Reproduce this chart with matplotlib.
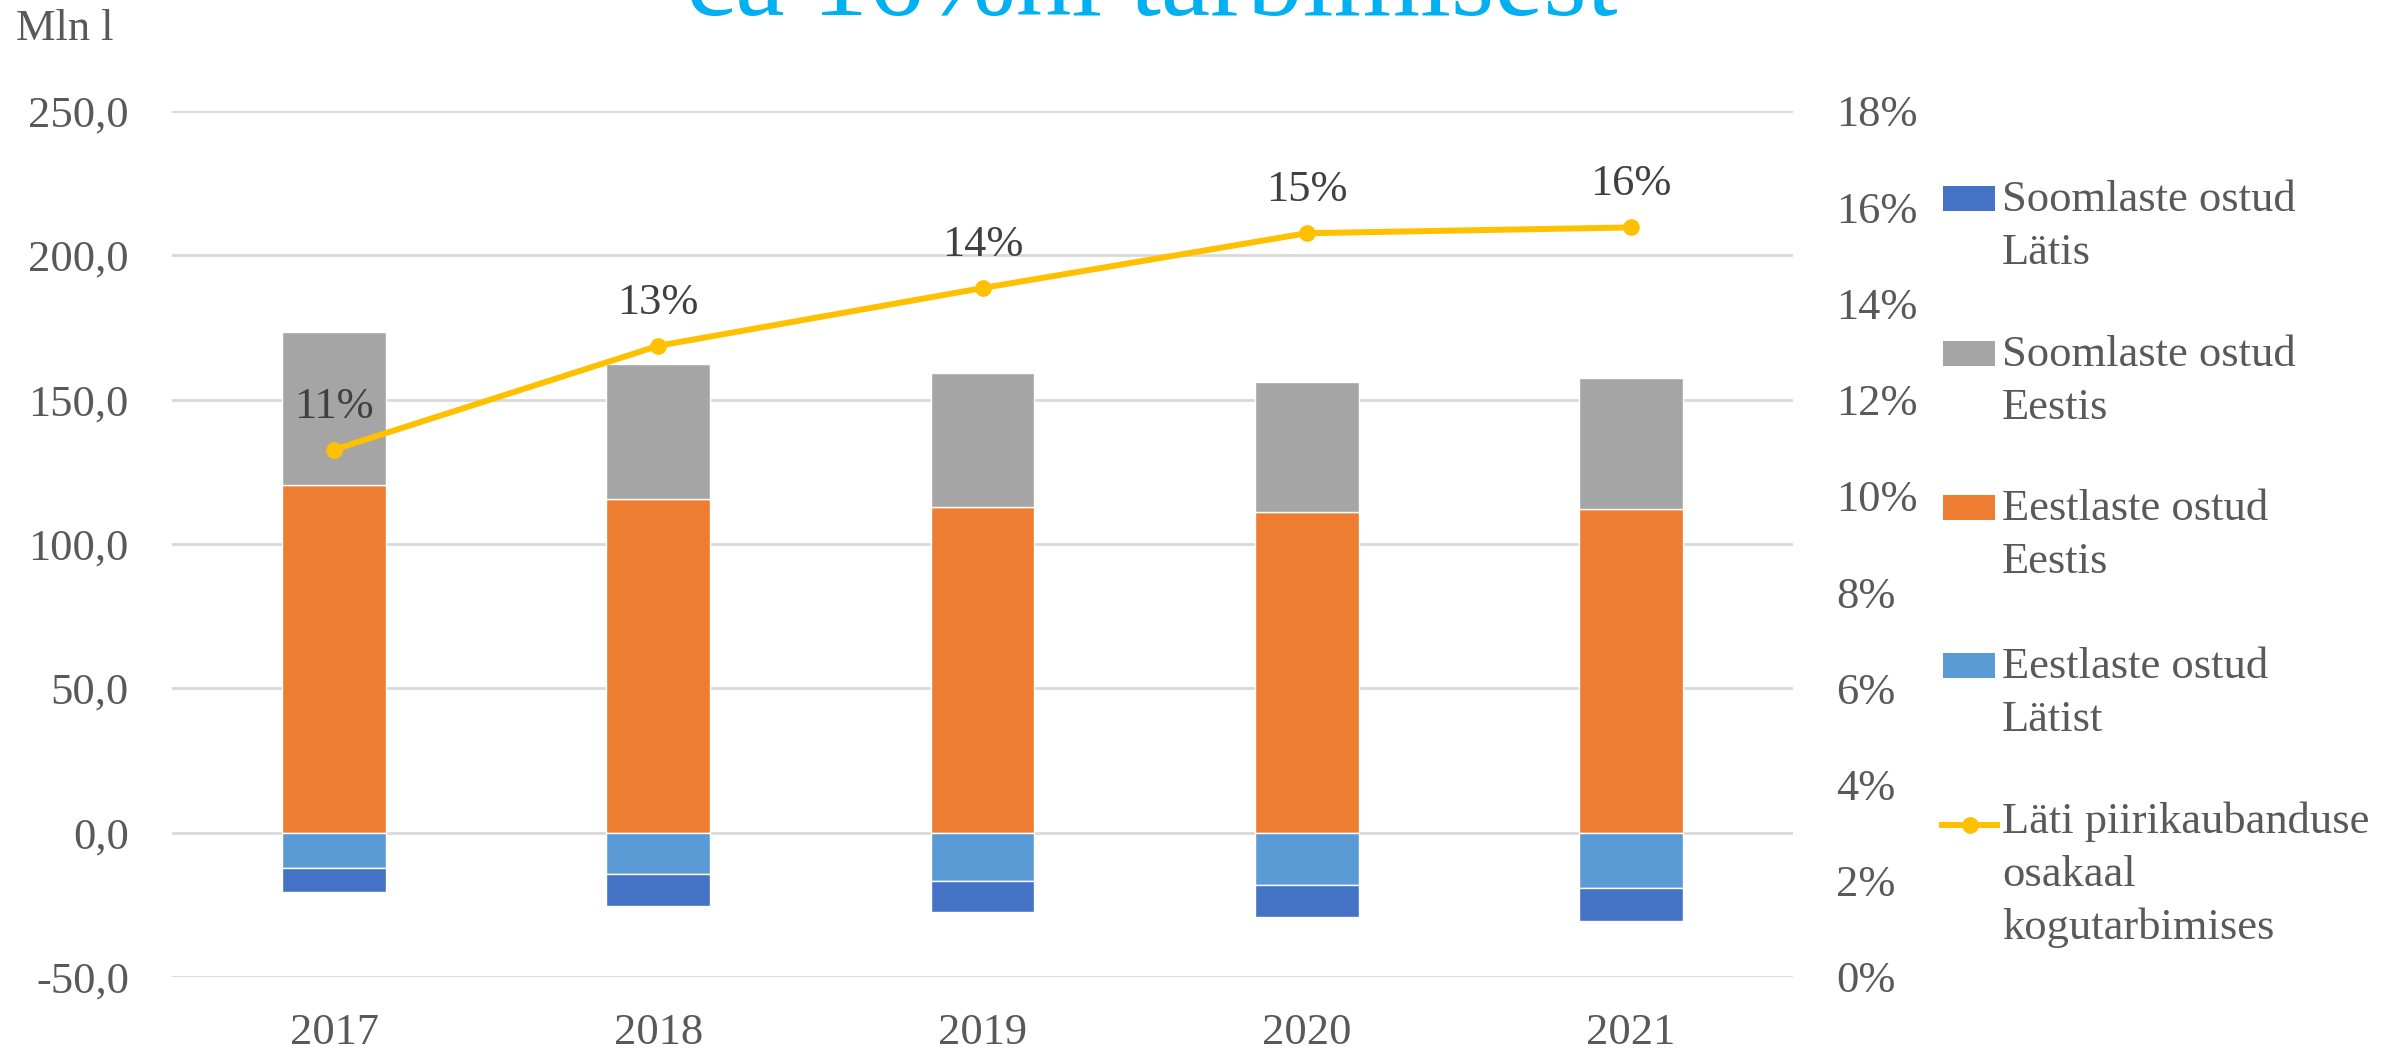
import matplotlib
matplotlib.use("Agg")
import matplotlib.pyplot as plt
import numpy as np
from matplotlib.patches import Rectangle
from matplotlib.lines import Line2D

# data (Mln l)
years = ["2017", "2018", "2019", "2020", "2021"]
soome_lati = [-8.5, -11.1, -10.6, -11.1, -11.7]      # Soomlaste ostud Lätis
soome_eesti = [53.1, 46.7, 46.6, 45.2, 45.4]         # Soomlaste ostud Eestis
eesti_eesti = [120.5, 115.6, 112.7, 111.0, 112.0]    # Eestlaste ostud Eestis
eesti_lati = [-12.1, -14.4, -16.9, -18.0, -19.0]     # Eestlaste ostud Lätist
lati_osakaal = [0.1096, 0.1312, 0.1432, 0.1546, 0.1558]
osakaal_labels = ["11%", "13%", "14%", "15%", "16%"]

legend_labels = [
    ["Soomlaste ostud", "Lätis"],
    ["Soomlaste ostud", "Eestis"],
    ["Eestlaste ostud", "Eestis"],
    ["Eestlaste ostud", "Lätist"],
    ["Läti piirikaubanduse", "osakaal", "kogutarbimises"],
]

C_DBLUE = "#4472C4"
C_GRAY = "#A5A5A5"
C_ORANGE = "#ED7D31"
C_LBLUE = "#5B9BD5"
C_YELLOW = "#FFC000"
C_TEXT = "#595959"
C_GRID = "#D9D9D9"

plt.rcParams["font.family"] = ["Liberation Serif", "DejaVu Serif"]

W, H = 2393, 1053
fig = plt.figure(figsize=(W / 100, H / 100), dpi=100)
fig.patch.set_facecolor("white")


def fx(px):
    return px / W


def fy(py):
    return 1 - py / H


ax = fig.add_axes([fx(172), fy(977), fx(1793) - fx(172), fy(111) - fy(977)])
x = np.arange(len(years))
bw = 0.32

ax.bar(x, eesti_eesti, bw, color=C_ORANGE, edgecolor="white", linewidth=1, zorder=3)
ax.bar(x, soome_eesti, bw, bottom=eesti_eesti, color=C_GRAY, edgecolor="white", linewidth=1, zorder=3)
ax.bar(x, eesti_lati, bw, color=C_LBLUE, edgecolor="white", linewidth=1, zorder=3)
ax.bar(x, soome_lati, bw, bottom=eesti_lati, color=C_DBLUE, edgecolor="white", linewidth=1, zorder=3)

ax.set_xlim(-0.5, len(years) - 0.5)
ax.set_ylim(-50, 250)
yt = np.arange(-50, 251, 50)
ax.set_yticks(yt)
ax.set_yticklabels([f"{v:.1f}".replace(".", ",") for v in yt])
ax.set_xticks(x)
ax.set_xticklabels(years)
ax.grid(axis="y", color=C_GRID, linewidth=2, zorder=0)
ax.set_axisbelow(True)
for s in ax.spines.values():
    s.set_visible(False)
ax.tick_params(axis="y", length=0, pad=31, labelsize=32, labelcolor=C_TEXT)
ax.tick_params(axis="x", length=0, pad=26, labelsize=32, labelcolor=C_TEXT)

ax2 = ax.twinx()
ax2.set_ylim(0, 0.18)
pt = np.arange(0, 0.181, 0.02)
ax2.set_yticks(pt)
ax2.set_yticklabels([f"{round(v * 100)}%" for v in pt])
for s in ax2.spines.values():
    s.set_visible(False)
ax2.tick_params(axis="y", length=0, pad=31, labelsize=32, labelcolor=C_TEXT)

ax2.plot(x, lati_osakaal, color=C_YELLOW, linewidth=4.3, marker="o", markersize=11, zorder=5)
for xi, yi, lab in zip(x, lati_osakaal, osakaal_labels):
    ax2.annotate(lab, (xi, yi), xytext=(0, 23), textcoords="offset points",
                 ha="center", va="baseline", fontsize=32, color="#404040")

# Unit label and (cut-off) title
fig.text(fx(16), fy(40), "Mln l", fontsize=32, color=C_TEXT, ha="left", va="baseline")
fig.text(fx(1152), fy(15), "ca 16%ni tarbimisest", fontsize=80, color="#00B0F0",
         ha="center", va="baseline")

# legend drawn manually
handles = [C_DBLUE, C_GRAY, C_ORANGE, C_LBLUE, "line"]
baselines = [211, 366, 520, 678, 833]
for col, base, lines in zip(handles, baselines, legend_labels):
    if col == "line":
        fig.add_artist(Line2D([fx(1942), fx(1997)], [fy(base - 8), fy(base - 8)],
                              color=C_YELLOW, linewidth=4.3, transform=fig.transFigure))
        fig.add_artist(Line2D([fx(1969.5)], [fy(base - 8)], color=C_YELLOW, marker="o",
                              markersize=11, transform=fig.transFigure))
    else:
        fig.add_artist(Rectangle((fx(1943), fy(base)), fx(1995) - fx(1943), fy(base - 25) - fy(base),
                                 facecolor=col, edgecolor="none", transform=fig.transFigure))
    for i, t in enumerate(lines):
        fig.text(fx(2002), fy(base + 53 * i), t, fontsize=32, color=C_TEXT,
                 ha="left", va="baseline")

fig.savefig("out.png", dpi=100, facecolor="white")
